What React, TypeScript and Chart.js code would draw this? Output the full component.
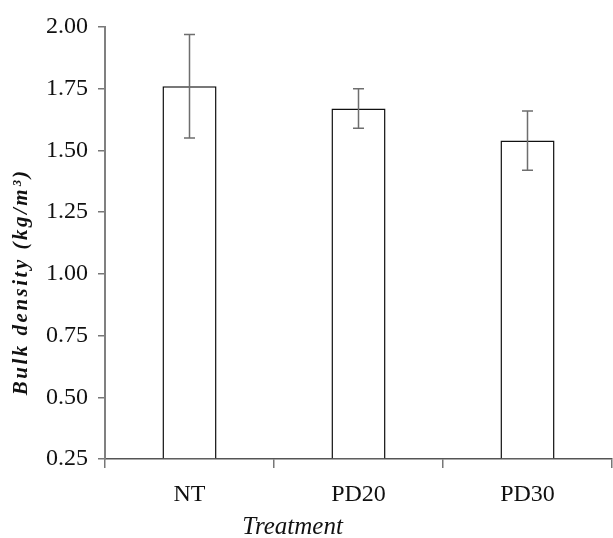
import React, { useEffect, useRef } from "react";
import { Chart, registerables } from "chart.js";

Chart.register(...registerables);

const categories = ["NT", "PD20", "PD30"];
const means = [1.76, 1.67, 1.54];
const errHigh = [1.97, 1.75, 1.66];
const errLow = [1.55, 1.59, 1.42];
const yTicks = [0.25, 0.5, 0.75, 1.0, 1.25, 1.5, 1.75, 2.0];
const xTitle = "Treatment";
const yTitle = "Bulk density (kg/m³)";

const SERIF = "'Liberation Serif', 'Times New Roman', Tinos, Times, serif";

const errorBarPlugin = {
  id: "errorBars",
  afterDatasetsDraw(chart: any) {
    const { ctx, scales } = chart;
    const meta = chart.getDatasetMeta(0);
    const y = scales.y;
    ctx.save();
    ctx.strokeStyle = "#6e6e6e";
    ctx.lineWidth = 1.5;
    meta.data.forEach((bar: any, i: number) => {
      const x = bar.x;
      const yh = y.getPixelForValue(errHigh[i]);
      const yl = y.getPixelForValue(errLow[i]);
      const cap = 5.5;
      ctx.beginPath();
      ctx.moveTo(x, yh);
      ctx.lineTo(x, yl);
      ctx.moveTo(x - cap, yh);
      ctx.lineTo(x + cap, yh);
      ctx.moveTo(x - cap, yl);
      ctx.lineTo(x + cap, yl);
      ctx.stroke();
    });
    ctx.restore();
  },
};

const titlesPlugin = {
  id: "titles",
  afterDraw(chart: any) {
    const { ctx, chartArea } = chart;
    ctx.save();
    ctx.fillStyle = "#111";
    ctx.textAlign = "center";
    ctx.textBaseline = "middle";
    ctx.font = "italic 25px " + SERIF;
    const w = chartArea.right - chartArea.left;
    ctx.fillText(xTitle, chartArea.left + w * 0.37, chartArea.bottom + 68);
    ctx.translate(22, chartArea.top + (chartArea.bottom - chartArea.top) * 0.59);
    ctx.rotate(-Math.PI / 2);
    ctx.font = "italic bold 21px " + SERIF;
    (ctx as any).letterSpacing = "2.5px";
    ctx.fillText(yTitle, 0, 0);
    ctx.restore();
  },
};

export default function App() {
  const ref = useRef<HTMLCanvasElement | null>(null);
  useEffect(() => {
    let chart: any = null;
    let cancelled = false;
    const make = () => {
      if (cancelled || !ref.current) return;
      chart = new Chart(ref.current, {
        type: "bar",
        data: {
          labels: categories,
          datasets: [
            {
              data: means,
              backgroundColor: "#ffffff",
              borderColor: "#111111",
              borderWidth: 1.5,
              categoryPercentage: 1,
              barPercentage: 0.32,
              base: 0.25,
            } as any,
          ],
        },
        options: {
          animation: false,
          responsive: true,
          maintainAspectRatio: false,
          layout: { padding: { top: 27, right: 1, left: 0, bottom: 0 } },
          plugins: { legend: { display: false }, tooltip: { enabled: false } },
          scales: {
            x: {
              offset: true,
              grid: {
                offset: true,
                drawOnChartArea: false,
                drawTicks: true,
                tickLength: 9,
                color: "#777",
                lineWidth: 1.5,
              },
              border: { color: "#555", width: 1.5 },
              ticks: {
                color: "#111",
                font: { family: SERIF, size: 24 },
                padding: 12,
              },
              afterFit(scale: any) {
                scale.height = 79;
              },
            },
            y: {
              min: 0.25,
              max: 2.0,
              afterBuildTicks(scale: any) {
                scale.ticks = yTicks.map((v) => ({ value: v }));
              },
              grid: {
                drawOnChartArea: false,
                drawTicks: true,
                tickLength: 7,
                color: "#777",
                lineWidth: 1.5,
              },
              border: { color: "#808080", width: 2 },
              ticks: {
                color: "#111",
                font: { family: SERIF, size: 24 },
                padding: 10,
                callback: (v: any) => Number(v).toFixed(2),
              },
              afterFit(scale: any) {
                scale.width = 105;
              },
            },
          },
        },
        plugins: [errorBarPlugin, titlesPlugin],
      });
    };
    const fonts: any = (document as any).fonts;
    if (fonts && fonts.load) {
      Promise.all([
        fonts.load("24px 'Liberation Serif'"),
        fonts.load("italic 24px 'Liberation Serif'"),
        fonts.load("italic bold 24px 'Liberation Serif'"),
      ])
        .catch(() => null)
        .then(make);
    } else {
      make();
    }
    return () => {
      cancelled = true;
      if (chart) chart.destroy();
    };
  }, []);
  return (
    <div style={{ position: "fixed", left: 0, top: 0, width: 613, height: 538, background: "#fff" }}>
      <span style={{ position: "absolute", left: -9999, fontFamily: "'Liberation Serif'" }}>
        a<i>a</i><b><i>a</i></b>
      </span>
      <canvas ref={ref} />
    </div>
  );
}
